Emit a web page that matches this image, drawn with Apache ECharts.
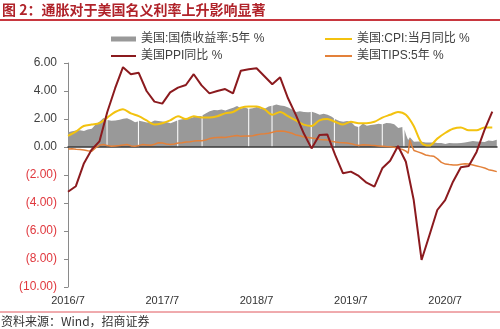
<!DOCTYPE html>
<html>
<head>
<meta charset="utf-8">
<script src="https://cdn.jsdelivr.net/npm/echarts@6/dist/echarts.min.js"></script>
<style>
  html, body { margin: 0; padding: 0; background: #fff; }
  #chart { width: 500px; height: 329px; }
</style>
</head>
<body>
<div id="chart"></div>
<script>
// Monthly series, one value per month from 2016/7 to 2021/1 (plotted at month end)
const ppiYoY = [
  -3.2, -2.8, -1.2, -0.2, 0.4, 2.5,
  4.2, 5.7, 5.2, 5.3, 4.0, 3.24,
  3.1, 3.9, 4.24, 4.43, 5.2, 4.4,
  3.83, 4.0, 4.14, 3.83, 5.45, 5.55,
  5.62, 5.05, 4.48, 4.98, 3.48, 2.29,
  0.98, -0.1, 0.86, 0.9, -0.57, -1.88,
  -1.76, -2.07, -2.55, -2.83, -1.52, -0.98,
  0.07, -1.05, -3.79, -8.07, -6.3, -4.5,
  -3.79, -2.48, -1.45, -1.36, -0.35, 1.2,
  2.52
];
const cpiYoY = [
  0.8, 1.1, 1.5, 1.6, 1.7, 2.1,
  2.5, 2.7, 2.4, 2.2, 1.9, 1.6,
  1.7, 1.9, 2.2, 2.0, 2.2, 2.1,
  2.1, 2.2, 2.4, 2.5, 2.8, 2.9,
  2.9, 2.7, 2.3, 2.5, 2.2, 1.9,
  1.6, 1.5, 1.9, 2.0, 1.8, 1.6,
  1.8, 1.7, 1.7, 1.8, 2.1, 2.3,
  2.5, 2.3, 1.5, 0.3, 0.1, 0.6,
  1.0, 1.3, 1.4, 1.2, 1.2, 1.4,
  1.4
];

// 5-year Treasury yield (null = no quote that day)
const treasury5y = [
  ['2016-08-01', 1.05], ['2016-08-16', 1.13], ['2016-09-01', 1.18], ['2016-09-16', 1.20],
  ['2016-10-01', 1.15], ['2016-10-16', 1.25], ['2016-11-01', 1.30], ['2016-11-16', 1.62],
  ['2016-12-01', 1.83], ['2016-12-16', 2.08], ['2016-12-28', 1.95], ['2016-12-30', null],
  ['2017-01-01', 1.93], ['2017-01-16', 1.88], ['2017-02-01', 1.90], ['2017-02-16', 1.95],
  ['2017-03-01', 2.02], ['2017-03-16', 2.05], ['2017-04-01', 1.92], ['2017-04-16', 1.76],
  ['2017-04-27', 1.82], ['2017-04-29', null], ['2017-05-01', 1.87], ['2017-05-16', 1.82],
  ['2017-06-01', 1.75], ['2017-06-16', 1.76], ['2017-07-01', 1.89], ['2017-07-16', 1.85],
  ['2017-08-01', 1.82], ['2017-08-16', 1.78], ['2017-09-01', 1.70], ['2017-09-16', 1.80],
  ['2017-09-27', 1.90], ['2017-09-29', null], ['2017-10-01', 1.93], ['2017-10-16', 1.98],
  ['2017-11-01', 2.01], ['2017-11-16', 2.05], ['2017-12-01', 2.14], ['2017-12-16', 2.20],
  ['2017-12-31', 2.22], ['2018-01-02', null], ['2018-01-04', 2.26], ['2018-01-16', 2.40],
  ['2018-02-01', 2.55], ['2018-02-16', 2.65], ['2018-03-01', 2.62], ['2018-03-16', 2.68],
  ['2018-04-01', 2.60], ['2018-04-16', 2.72], ['2018-05-01', 2.80], ['2018-05-16', 2.92],
  ['2018-06-01', 2.75], ['2018-06-16', 2.82], ['2018-06-28', 2.74], ['2018-06-30', null],
  ['2018-07-02', 2.73], ['2018-07-16', 2.76], ['2018-08-01', 2.85], ['2018-08-16', 2.75],
  ['2018-09-01', 2.74], ['2018-09-16', 2.90], ['2018-09-27', 2.94], ['2018-09-29', null],
  ['2018-10-01', 2.95], ['2018-10-16', 3.04], ['2018-11-01', 2.97], ['2018-11-16', 2.92],
  ['2018-12-01', 2.82], ['2018-12-16', 2.68], ['2019-01-01', 2.50], ['2019-01-16', 2.55],
  ['2019-02-01', 2.50], ['2019-02-16', 2.48], ['2019-02-25', 2.50], ['2019-02-27', null],
  ['2019-03-01', 2.52], ['2019-03-16', 2.43], ['2019-04-01', 2.30], ['2019-04-16', 2.38],
  ['2019-05-01', 2.30], ['2019-05-16', 2.17], ['2019-05-26', 2.05], ['2019-05-28', null],
  ['2019-05-30', 2.00], ['2019-06-16', 1.85], ['2019-07-01', 1.80], ['2019-07-16', 1.86],
  ['2019-08-01', 1.78], ['2019-08-16', 1.50], ['2019-08-29', 1.42], ['2019-08-31', null],
  ['2019-09-02', 1.45], ['2019-09-16', 1.68], ['2019-10-01', 1.52], ['2019-10-16', 1.58],
  ['2019-11-01', 1.60], ['2019-11-16', 1.66], ['2019-11-28', 1.62], ['2019-11-30', null],
  ['2019-12-02', 1.63], ['2019-12-16', 1.71], ['2020-01-01', 1.69], ['2020-01-16', 1.63],
  ['2020-02-01', 1.35], ['2020-02-16', 1.42], ['2020-02-20', 1.38], ['2020-02-22', null],
  ['2020-02-24', 1.25], ['2020-03-01', 0.85], ['2020-03-09', 0.50], ['2020-03-16', 0.70],
  ['2020-04-01', 0.38], ['2020-04-16', 0.40], ['2020-05-01', 0.37], ['2020-05-16', 0.33],
  ['2020-06-01', 0.32], ['2020-06-16', 0.33], ['2020-07-01', 0.29], ['2020-07-16', 0.28],
  ['2020-08-01', 0.22], ['2020-08-16', 0.28], ['2020-09-01', 0.27], ['2020-09-16', 0.27],
  ['2020-10-01', 0.28], ['2020-10-16', 0.32], ['2020-11-01', 0.38], ['2020-11-16', 0.42],
  ['2020-12-01', 0.40], ['2020-12-16', 0.37], ['2021-01-01', 0.36], ['2021-01-16', 0.46],
  ['2021-02-01', 0.43], ['2021-02-16', 0.52]
];

// 5-year TIPS real yield
const tips5y = [
  ['2016-08-01', -0.14], ['2016-08-16', -0.12], ['2016-09-01', -0.16], ['2016-09-16', -0.18],
  ['2016-10-01', -0.22], ['2016-10-16', -0.26], ['2016-11-01', -0.30], ['2016-11-16', -0.05],
  ['2016-12-01', 0.12], ['2016-12-16', 0.18], ['2017-01-01', 0.10], ['2017-01-16', 0.05],
  ['2017-02-01', 0.08], ['2017-02-16', 0.10], ['2017-03-01', 0.14], ['2017-03-16', 0.18],
  ['2017-04-01', 0.08], ['2017-04-16', 0.05], ['2017-05-01', 0.10], ['2017-05-16', 0.18],
  ['2017-06-01', 0.15], ['2017-06-16', 0.12], ['2017-07-01', 0.20], ['2017-07-16', 0.30],
  ['2017-08-01', 0.28], ['2017-08-16', 0.22], ['2017-09-01', 0.18], ['2017-09-16', 0.22],
  ['2017-10-01', 0.28], ['2017-10-16', 0.30], ['2017-11-01', 0.35], ['2017-11-16', 0.38],
  ['2017-12-01', 0.42], ['2017-12-16', 0.45], ['2018-01-01', 0.45], ['2018-01-16', 0.50],
  ['2018-02-01', 0.60], ['2018-02-16', 0.66], ['2018-03-01', 0.68], ['2018-03-16', 0.70],
  ['2018-04-01', 0.68], ['2018-04-16', 0.74], ['2018-05-01', 0.78], ['2018-05-16', 0.82],
  ['2018-06-01', 0.76], ['2018-06-16', 0.78], ['2018-07-01', 0.78], ['2018-07-16', 0.80],
  ['2018-08-01', 0.88], ['2018-08-16', 0.92], ['2018-09-01', 0.94], ['2018-09-16', 0.98],
  ['2018-10-01', 1.05], ['2018-10-16', 1.12], ['2018-11-01', 1.14], ['2018-11-16', 1.12],
  ['2018-12-01', 1.05], ['2018-12-16', 0.98], ['2019-01-01', 0.85], ['2019-01-16', 0.80],
  ['2019-02-01', 0.72], ['2019-02-16', 0.68], ['2019-03-01', 0.64], ['2019-03-16', 0.60],
  ['2019-04-01', 0.54], ['2019-04-16', 0.52], ['2019-05-01', 0.50], ['2019-05-16', 0.42],
  ['2019-06-01', 0.36], ['2019-06-16', 0.32], ['2019-07-01', 0.30], ['2019-07-16', 0.28],
  ['2019-08-01', 0.24], ['2019-08-16', 0.16], ['2019-09-01', 0.10], ['2019-09-16', 0.16],
  ['2019-10-01', 0.14], ['2019-10-16', 0.12], ['2019-11-01', 0.10], ['2019-11-16', 0.08],
  ['2019-12-01', 0.06], ['2019-12-16', 0.04], ['2020-01-01', 0.02], ['2020-01-16', -0.02],
  ['2020-02-01', -0.10], ['2020-02-16', -0.17], ['2020-03-01', -0.30], ['2020-03-09', -0.45],
  ['2020-03-16', 0.50], ['2020-03-23', 0.10], ['2020-04-01', -0.25], ['2020-04-16', -0.35],
  ['2020-05-01', -0.45], ['2020-05-16', -0.57], ['2020-06-01', -0.62], ['2020-06-16', -0.66],
  ['2020-07-01', -0.85], ['2020-07-16', -1.10], ['2020-08-01', -1.22], ['2020-08-16', -1.25],
  ['2020-09-01', -1.28], ['2020-09-16', -1.29], ['2020-10-01', -1.24], ['2020-10-16', -1.20],
  ['2020-11-01', -1.21], ['2020-11-16', -1.28], ['2020-12-01', -1.35], ['2020-12-16', -1.42],
  ['2021-01-01', -1.50], ['2021-01-16', -1.62], ['2021-02-01', -1.68], ['2021-02-16', -1.76]
];

const names = {
  treasury: '美国:国债收益率:5年 %',
  ppi: '美国PPI同比 %',
  cpi: '美国:CPI:当月同比 %',
  tips: '美国TIPS:5年 %'
};

// x scale: months elapsed since the end of July 2016
function monthIndex(s) {
  const [y, m, d] = s.split('-').map(Number);
  const daysInMonth = new Date(y, m, 0).getDate();
  return (y - 2016) * 12 + (m - 8) + d / daysInMonth;
}
function monthLabel(v) {
  const total = 2016 * 12 + 6 + Math.round(v);
  return Math.floor(total / 12) + '/' + (total % 12 + 1);
}
const daily = arr => arr.map(([d, v]) => [monthIndex(d), v === null ? '-' : v]);
const monthly = arr => arr.map((v, i) => [i, v]);

const latin = "'Liberation Sans', Arial, 'Noto Sans CJK SC', sans-serif";
const legendText = { fontSize: 12, color: '#404040', fontFamily: latin };

const chart = echarts.init(document.getElementById('chart'), null, { renderer: 'canvas' });
chart.setOption({
  animation: false,
  backgroundColor: '#fff',
  title: [{
    text: '图 2：通胀对于美国名义利率上升影响显著',
    left: 2, top: 3, padding: 0,
    textStyle: { fontSize: 14, fontWeight: 'bold', color: '#B0232A', fontFamily: "'Noto Sans CJK SC', sans-serif" }
  }, {
    text: '资料来源：Wind，招商证券',
    left: 1, top: 315, padding: 0,
    textStyle: { fontSize: 12, fontWeight: 'normal', color: '#333', fontFamily: "'Noto Sans CJK SC', sans-serif" }
  }],
  graphic: [
    { type: 'line', shape: { x1: 0, y1: 20, x2: 500, y2: 20 }, style: { stroke: '#C8373F', lineWidth: 2 } },
    { type: 'line', shape: { x1: 0, y1: 312, x2: 500, y2: 312 }, style: { stroke: '#E0575C', lineWidth: 1 } }
  ],
  legend: [
    { data: [{ name: names.treasury, icon: 'rect' }], left: 106, top: 28, itemWidth: 25, itemHeight: 5, textStyle: legendText, selectedMode: false },
    { data: [{ name: names.ppi, icon: 'rect' }], left: 106, top: 45, itemWidth: 25, itemHeight: 2, textStyle: legendText, selectedMode: false },
    { data: [{ name: names.cpi, icon: 'rect' }], left: 320, top: 28, itemWidth: 27, itemHeight: 2, textStyle: legendText, selectedMode: false },
    { data: [{ name: names.tips, icon: 'rect' }], left: 320, top: 45, itemWidth: 27, itemHeight: 2, textStyle: legendText, selectedMode: false }
  ],
  grid: { left: 68, right: 3, top: 63, bottom: 42, containLabel: false },
  xAxis: [{
    type: 'value', min: 0, max: 54.6, interval: 12,
    position: 'bottom',
    axisLine: { show: false, onZero: false },
    axisTick: { show: false },
    splitLine: { show: false },
    axisLabel: { formatter: monthLabel, fontSize: 11, color: '#333', margin: 8, fontFamily: latin, showMaxLabel: false }
  }, {
    type: 'value', min: 0, max: 54.6, interval: 12,
    position: 'bottom', z: 2,
    axisLine: { show: true, onZero: true, lineStyle: { color: '#3a3a3a', width: 1.5 } },
    axisTick: { show: false },
    axisLabel: { show: false },
    splitLine: { show: false }
  }],
  yAxis: {
    type: 'value', min: -10, max: 6, interval: 2,
    axisLine: { show: true, lineStyle: { color: '#8a8a8a', width: 1 } },
    axisTick: { show: true, length: 4, lineStyle: { color: '#8a8a8a' } },
    splitLine: { show: false },
    axisLabel: {
      margin: 11, fontSize: 12, fontFamily: latin,
      formatter: v => v < 0 ? '(' + (-v).toFixed(2) + ')' : v.toFixed(2),
      color: v => Number(v) < 0 ? '#E0383E' : '#404040'
    }
  },
  series: [{
    name: names.treasury, type: 'line', z: 1,
    data: daily(treasury5y),
    showSymbol: false, connectNulls: false,
    itemStyle: { color: '#999999' },
    lineStyle: { width: 0 },
    areaStyle: { color: '#999999', opacity: 1 }
  }, {
    name: names.cpi, type: 'line', z: 3,
    data: monthly(cpiYoY),
    showSymbol: false, smooth: 0.3,
    itemStyle: { color: '#F3C20F' },
    lineStyle: { color: '#F3C20F', width: 2 }
  }, {
    name: names.tips, type: 'line', z: 3,
    data: daily(tips5y),
    showSymbol: false,
    itemStyle: { color: '#E3813A' },
    lineStyle: { color: '#E3813A', width: 1.5 }
  }, {
    name: names.ppi, type: 'line', z: 4,
    data: monthly(ppiYoY),
    showSymbol: false,
    itemStyle: { color: '#8B1A1E' },
    lineStyle: { color: '#8B1A1E', width: 2 }
  }]
});
</script>
</body>
</html>
